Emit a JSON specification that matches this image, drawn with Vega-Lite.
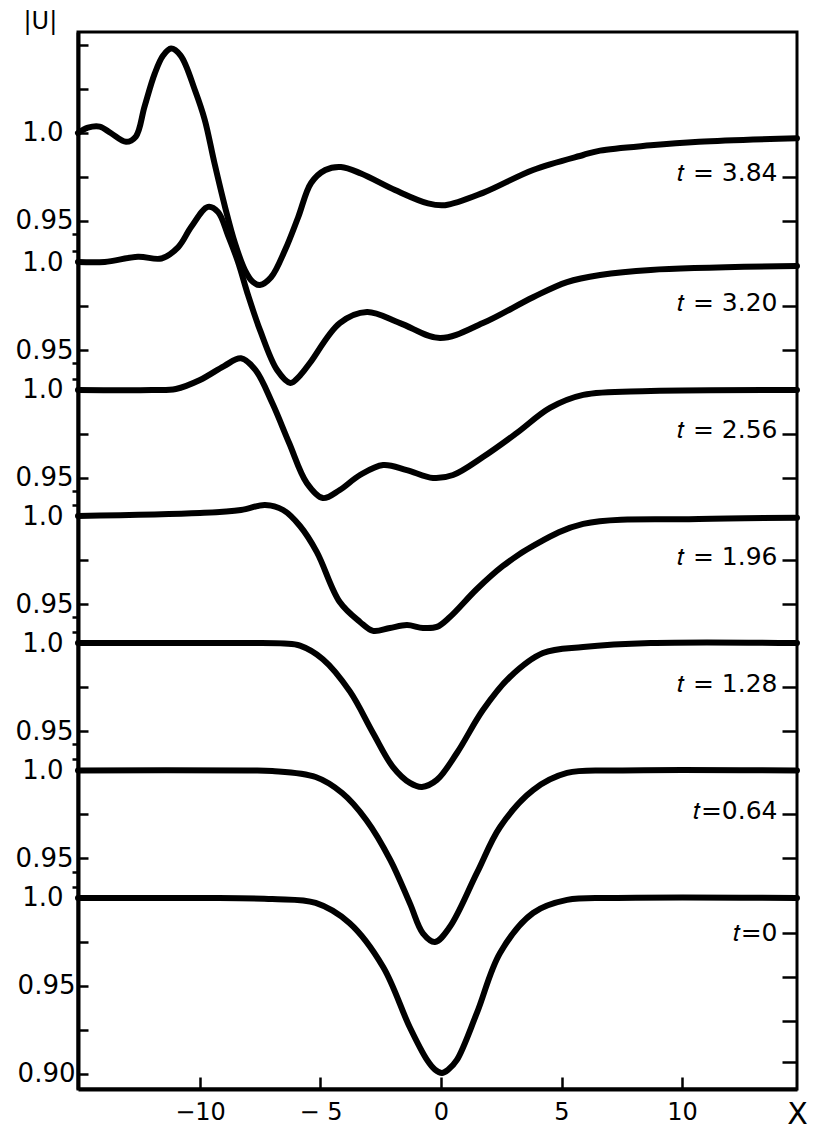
{
  "$schema": "https://vega.github.io/schema/vega-lite/v6.json",
  "width": 719,
  "height": 1057,
  "autosize": "none",
  "padding": {"left": 78, "top": 32, "right": 16, "bottom": 51},
  "background": "white",
  "config": {
    "view": {"stroke": "black", "strokeWidth": 3},
    "line": {"interpolate": "catmull-rom"},
    "axis": {"labelFont": "DejaVu Sans", "labelColor": "black", "tickColor": "black", "domainColor": "black", "grid": false, "labelFlush": false, "labelOverlap": false, "tickWidth": 2.5, "titleColor": "black", "titleFont": "DejaVu Sans", "titleFontWeight": "normal"}
  },
  "data": {"values": [
    {"t":3.84,"x":-15.06,"u":1.0},{"t":3.84,"x":-14.65,"u":1.003},{"t":3.84,"x":-14.16,"u":1.0036},{"t":3.84,"x":-13.7,"u":1.0},{"t":3.84,"x":-13.07,"u":0.995},{"t":3.84,"x":-12.66,"u":0.998},{"t":3.84,"x":-12.3,"u":1.015},{"t":3.84,"x":-11.87,"u":1.034},{"t":3.84,"x":-11.53,"u":1.044},{"t":3.84,"x":-11.2,"u":1.048},{"t":3.84,"x":-10.8,"u":1.044},{"t":3.84,"x":-10.2,"u":1.024},{"t":3.84,"x":-9.8,"u":1.0074},{"t":3.84,"x":-9.4,"u":0.983},{"t":3.84,"x":-8.96,"u":0.958},{"t":3.84,"x":-8.55,"u":0.9375},{"t":3.84,"x":-8.13,"u":0.922},{"t":3.84,"x":-7.8,"u":0.9153},{"t":3.84,"x":-7.52,"u":0.9136},{"t":3.84,"x":-7.05,"u":0.918},{"t":3.84,"x":-6.47,"u":0.9335},{"t":3.84,"x":-5.93,"u":0.952},{"t":3.84,"x":-5.39,"u":0.9716},{"t":3.84,"x":-4.8,"u":0.979},{"t":3.84,"x":-4.15,"u":0.9807},{"t":3.84,"x":-3.32,"u":0.977},{"t":3.84,"x":-1.91,"u":0.9676},{"t":3.84,"x":-0.54,"u":0.96},{"t":3.84,"x":0.17,"u":0.959},{"t":3.84,"x":1.74,"u":0.966},{"t":3.84,"x":3.82,"u":0.979},{"t":3.84,"x":5.9,"u":0.9875},{"t":3.84,"x":6.6,"u":0.99},{"t":3.84,"x":8.7,"u":0.993},{"t":3.84,"x":10.7,"u":0.995},{"t":3.84,"x":14.77,"u":0.997},
    {"t":3.2,"x":-15.06,"u":1.0},{"t":3.2,"x":-13.95,"u":1.0},{"t":3.2,"x":-12.57,"u":1.003},{"t":3.2,"x":-11.6,"u":1.002},{"t":3.2,"x":-10.9,"u":1.0085},{"t":3.2,"x":-10.36,"u":1.02},{"t":3.2,"x":-9.67,"u":1.0313},{"t":3.2,"x":-9.25,"u":1.0284},{"t":3.2,"x":-8.84,"u":1.0153},{"t":3.2,"x":-8.42,"u":1.0},{"t":3.2,"x":-8.0,"u":0.981},{"t":3.2,"x":-7.5,"u":0.961},{"t":3.2,"x":-6.8,"u":0.9386},{"t":3.2,"x":-6.25,"u":0.9313},{"t":3.2,"x":-5.85,"u":0.9355},{"t":3.2,"x":-5.44,"u":0.9426},{"t":3.2,"x":-4.2,"u":0.9653},{"t":3.2,"x":-3.07,"u":0.9716},{"t":3.2,"x":-1.7,"u":0.9653},{"t":3.2,"x":-0.04,"u":0.9568},{"t":3.2,"x":1.74,"u":0.9653},{"t":3.2,"x":3.82,"u":0.98},{"t":3.2,"x":5.23,"u":0.9886},{"t":3.2,"x":6.6,"u":0.9926},{"t":3.2,"x":8.7,"u":0.9955},{"t":3.2,"x":14.77,"u":0.9977},
    {"t":2.56,"x":-15.06,"u":1.0},{"t":2.56,"x":-12,"u":1.0},{"t":2.56,"x":-11,"u":1.0006},{"t":2.56,"x":-10,"u":1.0057},{"t":2.56,"x":-9,"u":1.0136},{"t":2.56,"x":-8.3,"u":1.018},{"t":2.56,"x":-7.7,"u":1.0114},{"t":2.56,"x":-7.0,"u":0.9926},{"t":2.56,"x":-6.3,"u":0.9699},{"t":2.56,"x":-5.57,"u":0.9472},{"t":2.56,"x":-4.9,"u":0.9386},{"t":2.56,"x":-4.2,"u":0.9432},{"t":2.56,"x":-3.36,"u":0.9517},{"t":2.56,"x":-2.4,"u":0.9574},{"t":2.56,"x":-1.42,"u":0.9545},{"t":2.56,"x":-0.33,"u":0.95},{"t":2.56,"x":0.5,"u":0.9517},{"t":2.56,"x":1.74,"u":0.9619},{"t":2.56,"x":3.15,"u":0.9756},{"t":2.56,"x":4.52,"u":0.9898},{"t":2.56,"x":5.9,"u":0.9972},{"t":2.56,"x":8.7,"u":0.9994},{"t":2.56,"x":14.77,"u":1.0},
    {"t":1.96,"x":-15.06,"u":1.0},{"t":1.96,"x":-10,"u":1.0017},{"t":1.96,"x":-8.3,"u":1.0034},{"t":1.96,"x":-7.3,"u":1.0063},{"t":1.96,"x":-6.55,"u":1.0034},{"t":1.96,"x":-5.85,"u":0.9943},{"t":1.96,"x":-5.15,"u":0.9795},{"t":1.96,"x":-4.2,"u":0.9511},{"t":1.96,"x":-3.36,"u":0.9398},{"t":1.96,"x":-2.82,"u":0.9347},{"t":1.96,"x":-2.12,"u":0.9364},{"t":1.96,"x":-1.41,"u":0.938},{"t":1.96,"x":-0.75,"u":0.9364},{"t":1.96,"x":-0.17,"u":0.937},{"t":1.96,"x":0.37,"u":0.9426},{"t":1.96,"x":1.49,"u":0.9585},{"t":1.96,"x":2.57,"u":0.9716},{"t":1.96,"x":3.82,"u":0.983},{"t":1.96,"x":5.9,"u":0.9955},{"t":1.96,"x":10.7,"u":0.9983},{"t":1.96,"x":14.77,"u":0.999},
    {"t":1.28,"x":-15.06,"u":1.0},{"t":1.28,"x":-8,"u":1.0},{"t":1.28,"x":-6.5,"u":0.9997},{"t":1.28,"x":-5.85,"u":0.9985},{"t":1.28,"x":-4.9,"u":0.9908},{"t":1.28,"x":-3.78,"u":0.9725},{"t":1.28,"x":-2.82,"u":0.9489},{"t":1.28,"x":-1.99,"u":0.9295},{"t":1.28,"x":-1.29,"u":0.9205},{"t":1.28,"x":-0.79,"u":0.9182},{"t":1.28,"x":-0.17,"u":0.9222},{"t":1.28,"x":0.66,"u":0.9375},{"t":1.28,"x":1.74,"u":0.9619},{"t":1.28,"x":2.86,"u":0.9807},{"t":1.28,"x":4.23,"u":0.9943},{"t":1.28,"x":5.9,"u":0.9977},{"t":1.28,"x":8.7,"u":1.0},{"t":1.28,"x":14.77,"u":1.0},
    {"t":0.64,"x":-15.06,"u":1.0},{"t":0.64,"x":-8,"u":1.0},{"t":0.64,"x":-7,"u":0.9997},{"t":0.64,"x":-5.2,"u":0.9963},{"t":0.64,"x":-4.1,"u":0.9872},{"t":0.64,"x":-3.1,"u":0.9719},{"t":0.64,"x":-2.1,"u":0.9491},{"t":0.64,"x":-1.29,"u":0.9245},{"t":0.64,"x":-0.75,"u":0.9075},{"t":0.64,"x":-0.25,"u":0.9026},{"t":0.64,"x":0.37,"u":0.9112},{"t":0.64,"x":1.49,"u":0.9418},{"t":0.64,"x":2.45,"u":0.9679},{"t":0.64,"x":3.82,"u":0.9889},{"t":0.64,"x":5.23,"u":0.9986},{"t":0.64,"x":7.3,"u":1.0},{"t":0.64,"x":14.77,"u":1.0},
    {"t":0,"x":-15.06,"u":1.0},{"t":0,"x":-10,"u":1.0},{"t":0,"x":-7,"u":0.9994},{"t":0,"x":-5.2,"u":0.9972},{"t":0,"x":-3.8,"u":0.9858},{"t":0,"x":-2.4,"u":0.9608},{"t":0,"x":-1.3,"u":0.9267},{"t":0,"x":-0.58,"u":0.908},{"t":0,"x":-0.25,"u":0.9025},{"t":0,"x":0.04,"u":0.9006},{"t":0,"x":0.3,"u":0.9025},{"t":0,"x":0.66,"u":0.908},{"t":0,"x":1.49,"u":0.9347},{"t":0,"x":2.45,"u":0.9688},{"t":0,"x":3.82,"u":0.9915},{"t":0,"x":5.23,"u":0.9989},{"t":0,"x":7.3,"u":1.0},{"t":0,"x":14.77,"u":1.0}
  ]},
  "encoding": {
    "x": {"field": "x", "type": "quantitative", "scale": {"domain": [-15.06, 14.77], "nice": false, "zero": false},
          "axis": {"orient": "bottom", "values": [-10, -5, 0, 5, 10], "labelExpr": "datum.value == -5 ? '− 5' : datum.label", "tickSize": -12, "labelPadding": 23, "labelFontSize": 24, "domain": true, "domainWidth": 4, "title": "X", "titleX": 719, "titleY": 34, "titleAlign": "center", "titleBaseline": "alphabetic", "titleFontSize": 30}}
  },
  "layer": [
    {
      "transform": [{"filter": "datum.t == 3.84"}],
      "layer": [
        {"mark": {"type": "line", "color": "black", "strokeWidth": 6, "strokeCap": "round", "strokeJoin": "round"},
         "encoding": {
           "y": {"field": "u", "type": "quantitative", "scale": {"domain": [0.456818, 1.057386], "nice": false, "zero": false},
                 "axis": {"orient": "left", "values": [1.05, 1.025, 1, 0.975, 0.95, 0.9426], "labelExpr": "datum.value == 1 ? '1.0' : (datum.value == 0.95 ? '0.95' : '')", "tickSize": {"condition": {"test": "datum.value < 0.945", "value": 6}, "value": -10}, "labelPadding": {"condition": {"test": "datum.value == 1", "value": 25}, "value": 15}, "labelFontSize": 26, "labelAlign": "right", "labelBaseline": "middle", "domain": true, "domainWidth": 4, "title": "|U|", "titleAngle": 0, "titleAlign": "left", "titleBaseline": "alphabetic", "titleX": -55, "titleY": -4, "titleFontSize": 24, "titleFont": "DejaVu Sans"}}
         }},
        {"mark": {"type": "line", "strokeOpacity": 0},
         "encoding": {
           "y": {"field": "u", "type": "quantitative", "scale": {"domain": [0.456818, 1.057386], "nice": false, "zero": false},
                 "axis": {"orient": "right", "values": [0.975, 0.95], "labelExpr": "datum.value == 0.975 ? '𝑡 = 3.84' : ''", "tickSize": -15, "labelAlign": "right", "labelBaseline": "alphabetic", "labelOffset": 4, "labelPadding": -5, "labelFontSize": 25, "domain": false, "title": null}}
         }}
      ],
      "resolve": {"axis": {"y": "independent"}}
    },
    {
      "transform": [{"filter": "datum.t == 3.2"}],
      "layer": [
        {"mark": {"type": "line", "color": "black", "strokeWidth": 6, "strokeCap": "round", "strokeJoin": "round"},
         "encoding": {
           "y": {"field": "u", "type": "quantitative", "scale": {"domain": [0.530114, 1.130682], "nice": false, "zero": false},
                 "axis": {"orient": "left", "values": [1.0065, 1, 0.975, 0.95, 0.9426], "labelExpr": "datum.value == 1 ? '1.0' : (datum.value == 0.95 ? '0.95' : '')", "tickSize": {"condition": {"test": "datum.value < 0.945 || datum.value > 1.003", "value": 6}, "value": -10}, "labelPadding": {"condition": {"test": "datum.value == 1", "value": 25}, "value": 15}, "labelFontSize": 26, "labelAlign": "right", "labelBaseline": "middle", "domain": false, "title": null}}
         }},
        {"mark": {"type": "line", "strokeOpacity": 0},
         "encoding": {
           "y": {"field": "u", "type": "quantitative", "scale": {"domain": [0.530114, 1.130682], "nice": false, "zero": false},
                 "axis": {"orient": "right", "values": [0.975, 0.95], "labelExpr": "datum.value == 0.975 ? '𝑡 = 3.20' : ''", "tickSize": -15, "labelAlign": "right", "labelBaseline": "alphabetic", "labelOffset": 4, "labelPadding": -5, "labelFontSize": 25, "domain": false, "title": null}}
         }}
      ],
      "resolve": {"axis": {"y": "independent"}}
    },
    {
      "transform": [{"filter": "datum.t == 2.56"}],
      "layer": [
        {"mark": {"type": "line", "color": "black", "strokeWidth": 6, "strokeCap": "round", "strokeJoin": "round"},
         "encoding": {
           "y": {"field": "u", "type": "quantitative", "scale": {"domain": [0.602841, 1.203409], "nice": false, "zero": false},
                 "axis": {"orient": "left", "values": [1.0065, 1, 0.975, 0.95, 0.9426], "labelExpr": "datum.value == 1 ? '1.0' : (datum.value == 0.95 ? '0.95' : '')", "tickSize": {"condition": {"test": "datum.value < 0.945 || datum.value > 1.003", "value": 6}, "value": -10}, "labelPadding": {"condition": {"test": "datum.value == 1", "value": 25}, "value": 15}, "labelFontSize": 26, "labelAlign": "right", "labelBaseline": "middle", "domain": false, "title": null}}
         }},
        {"mark": {"type": "line", "strokeOpacity": 0},
         "encoding": {
           "y": {"field": "u", "type": "quantitative", "scale": {"domain": [0.602841, 1.203409], "nice": false, "zero": false},
                 "axis": {"orient": "right", "values": [0.975, 0.95], "labelExpr": "datum.value == 0.975 ? '𝑡 = 2.56' : ''", "tickSize": -15, "labelAlign": "right", "labelBaseline": "alphabetic", "labelOffset": 4, "labelPadding": -5, "labelFontSize": 25, "domain": false, "title": null}}
         }}
      ],
      "resolve": {"axis": {"y": "independent"}}
    },
    {
      "transform": [{"filter": "datum.t == 1.96"}],
      "layer": [
        {"mark": {"type": "line", "color": "black", "strokeWidth": 6, "strokeCap": "round", "strokeJoin": "round"},
         "encoding": {
           "y": {"field": "u", "type": "quantitative", "scale": {"domain": [0.674432, 1.275], "nice": false, "zero": false},
                 "axis": {"orient": "left", "values": [1.0065, 1, 0.975, 0.95, 0.9426], "labelExpr": "datum.value == 1 ? '1.0' : (datum.value == 0.95 ? '0.95' : '')", "tickSize": {"condition": {"test": "datum.value < 0.945 || datum.value > 1.003", "value": 6}, "value": -10}, "labelPadding": {"condition": {"test": "datum.value == 1", "value": 25}, "value": 15}, "labelFontSize": 26, "labelAlign": "right", "labelBaseline": "middle", "domain": false, "title": null}}
         }},
        {"mark": {"type": "line", "strokeOpacity": 0},
         "encoding": {
           "y": {"field": "u", "type": "quantitative", "scale": {"domain": [0.674432, 1.275], "nice": false, "zero": false},
                 "axis": {"orient": "right", "values": [0.975, 0.95], "labelExpr": "datum.value == 0.975 ? '𝑡 = 1.96' : ''", "tickSize": -15, "labelAlign": "right", "labelBaseline": "alphabetic", "labelOffset": 4, "labelPadding": -5, "labelFontSize": 25, "domain": false, "title": null}}
         }}
      ],
      "resolve": {"axis": {"y": "independent"}}
    },
    {
      "transform": [{"filter": "datum.t == 1.28"}],
      "layer": [
        {"mark": {"type": "line", "color": "black", "strokeWidth": 6, "strokeCap": "round", "strokeJoin": "round"},
         "encoding": {
           "y": {"field": "u", "type": "quantitative", "scale": {"domain": [0.746591, 1.347159], "nice": false, "zero": false},
                 "axis": {"orient": "left", "values": [1.0065, 1, 0.975, 0.95, 0.9426], "labelExpr": "datum.value == 1 ? '1.0' : (datum.value == 0.95 ? '0.95' : '')", "tickSize": {"condition": {"test": "datum.value < 0.945 || datum.value > 1.003", "value": 6}, "value": -10}, "labelPadding": {"condition": {"test": "datum.value == 1", "value": 25}, "value": 15}, "labelFontSize": 26, "labelAlign": "right", "labelBaseline": "middle", "domain": false, "title": null}}
         }},
        {"mark": {"type": "line", "strokeOpacity": 0},
         "encoding": {
           "y": {"field": "u", "type": "quantitative", "scale": {"domain": [0.746591, 1.347159], "nice": false, "zero": false},
                 "axis": {"orient": "right", "values": [0.975, 0.95], "labelExpr": "datum.value == 0.975 ? '𝑡 = 1.28' : ''", "tickSize": -15, "labelAlign": "right", "labelBaseline": "alphabetic", "labelOffset": 4, "labelPadding": -5, "labelFontSize": 25, "domain": false, "title": null}}
         }}
      ],
      "resolve": {"axis": {"y": "independent"}}
    },
    {
      "transform": [{"filter": "datum.t == 0.64"}],
      "layer": [
        {"mark": {"type": "line", "color": "black", "strokeWidth": 6, "strokeCap": "round", "strokeJoin": "round"},
         "encoding": {
           "y": {"field": "u", "type": "quantitative", "scale": {"domain": [0.819034, 1.419602], "nice": false, "zero": false},
                 "axis": {"orient": "left", "values": [1.0065, 1, 0.975, 0.95, 0.9426], "labelExpr": "datum.value == 1 ? '1.0' : (datum.value == 0.95 ? '0.95' : '')", "tickSize": {"condition": {"test": "datum.value < 0.945 || datum.value > 1.003", "value": 6}, "value": -10}, "labelPadding": {"condition": {"test": "datum.value == 1", "value": 25}, "value": 15}, "labelFontSize": 26, "labelAlign": "right", "labelBaseline": "middle", "domain": false, "title": null}}
         }},
        {"mark": {"type": "line", "strokeOpacity": 0},
         "encoding": {
           "y": {"field": "u", "type": "quantitative", "scale": {"domain": [0.819034, 1.419602], "nice": false, "zero": false},
                 "axis": {"orient": "right", "values": [0.975, 0.95], "labelExpr": "datum.value == 0.975 ? '𝑡=0.64' : ''", "tickSize": -15, "labelAlign": "right", "labelBaseline": "alphabetic", "labelOffset": 4, "labelPadding": -5, "labelFontSize": 25, "domain": false, "title": null}}
         }}
      ],
      "resolve": {"axis": {"y": "independent"}}
    },
    {
      "transform": [{"filter": "datum.t == 0"}],
      "layer": [
        {"mark": {"type": "line", "color": "black", "strokeWidth": 6, "strokeCap": "round", "strokeJoin": "round"},
         "encoding": {
           "y": {"field": "u", "type": "quantitative", "scale": {"domain": [0.891477, 1.492045], "nice": false, "zero": false},
                 "axis": {"orient": "left", "values": [1.0065, 1, 0.975, 0.95, 0.925, 0.9], "labelExpr": "datum.value == 1 ? '1.0' : (datum.value == 0.95 ? '0.95' : (datum.value == 0.9 ? '0.90' : ''))", "tickSize": {"condition": {"test": "datum.value > 1.003", "value": 6}, "value": -10}, "labelPadding": {"condition": {"test": "datum.value == 1", "value": 25}, "value": 13}, "labelFontSize": 26, "labelAlign": "right", "labelBaseline": "middle", "domain": false, "title": null}}
         }},
        {"mark": {"type": "line", "strokeOpacity": 0},
         "encoding": {
           "y": {"field": "u", "type": "quantitative", "scale": {"domain": [0.891477, 1.492045], "nice": false, "zero": false},
                 "axis": {"orient": "right", "values": [0.98, 0.955, 0.93, 0.907], "labelExpr": "datum.value == 0.98 ? '𝑡=0' : ''", "tickSize": -15, "labelAlign": "right", "labelBaseline": "alphabetic", "labelOffset": 7, "labelPadding": -5, "labelFontSize": 25, "domain": false, "title": null}}
         }}
      ],
      "resolve": {"axis": {"y": "independent"}}
    }
  ],
  "resolve": {"scale": {"y": "independent"}, "axis": {"y": "independent"}}
}
